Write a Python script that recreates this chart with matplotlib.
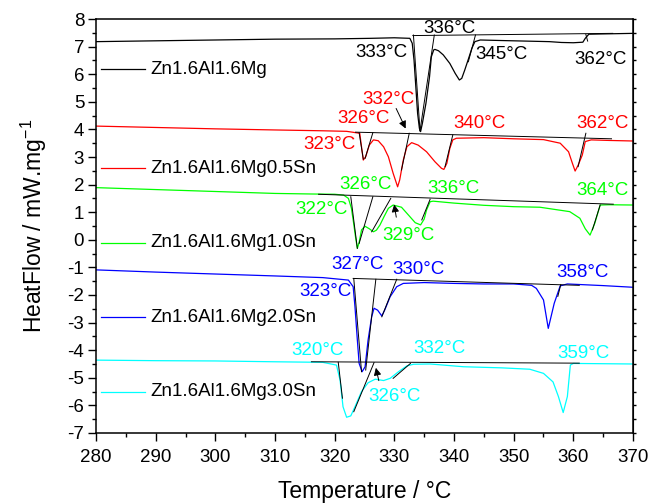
import numpy as np
import matplotlib
matplotlib.use('Agg')
import matplotlib.pyplot as plt
from matplotlib.ticker import MultipleLocator

plt.rcParams['font.family'] = ['Liberation Sans', 'DejaVu Sans']
plt.rcParams['axes.unicode_minus'] = False
plt.rcParams['mathtext.fontset'] = 'custom'
plt.rcParams['mathtext.rm'] = 'Liberation Sans'
plt.rcParams['mathtext.default'] = 'rm'

names = ['Zn1.6Al1.6Mg', 'Zn1.6Al1.6Mg0.5Sn', 'Zn1.6Al1.6Mg1.0Sn', 'Zn1.6Al1.6Mg2.0Sn', 'Zn1.6Al1.6Mg3.0Sn']
colors = ['black', '#FF0000', '#00FF00', '#0000FF', '#00FFFF']

# DSC traces (temperature in C, heat flow in mW/mg)
t_mg = [280, 290, 300, 310, 320, 326, 330, 332.6, 333.0, 333.3, 333.6, 333.9, 334.2, 334.4, 334.7, 335.3,
        335.9, 336.2, 336.6, 336.8, 337.4, 338.2, 339.3, 340.2, 340.9, 341.3, 341.8, 342.4, 343.0, 343.5,
        344.4, 348, 352, 356, 358, 360, 361.6, 362.0, 362.6, 365, 370]
hf_mg = [7.18, 7.21, 7.24, 7.27, 7.28, 7.30, 7.32, 7.30, 7.12, 6.51, 5.55, 4.58, 4.04, 3.92, 4.22, 4.95,
         5.91, 6.63, 6.88, 6.90, 6.85, 6.70, 6.39, 6.03, 5.79, 5.85, 6.15, 6.54, 6.94, 7.18,
         7.24, 7.22, 7.20, 7.18, 7.15, 7.14, 7.16, 7.30, 7.45, 7.46, 7.48]

t_sn05 = [280, 290, 300, 310, 318, 322, 324.2, 324.5, 324.8, 325.2, 325.8, 326.5, 327.3, 328.2, 329.0,
          329.8, 330.55, 330.9, 331.5, 332.1, 332.9, 334.0, 335.4, 336.8, 337.9, 338.3, 338.8, 339.3,
          339.8, 340.4, 345, 350, 355, 357.8, 359.2, 359.8, 360.3, 360.8, 361.5, 362.0, 363, 366, 370]
hf_sn05 = [4.12, 4.07, 4.02, 3.98, 3.95, 3.93, 3.86, 3.37, 2.89, 3.01, 3.43, 3.62, 3.59, 3.37, 3.01,
           2.41, 1.92, 2.17, 2.89, 3.37, 3.52, 3.43, 3.19, 2.83, 2.59, 2.55, 2.77, 3.31,
           3.62, 3.68, 3.70, 3.66, 3.63, 3.50, 3.19, 2.80, 2.49, 2.70, 3.07, 3.56, 3.62, 3.60, 3.58]

t_sn10 = [280, 290, 300, 310, 316, 320, 321.5, 322.3, 322.8, 323.1, 323.5, 323.8, 324.1, 324.5, 325.1,
          325.8, 326.5, 327.0, 327.6, 328.3, 329.0, 329.8, 331.2, 332.6, 333.5, 334.4, 335.0, 335.4,
          336.0, 336.5, 340, 345, 350, 354.4, 359.4, 361.1, 362.0, 362.8, 363.6, 364.5, 366, 370]
hf_sn10 = [1.89, 1.82, 1.75, 1.68, 1.66, 1.65, 1.62, 1.50, 1.15, 0.72, 0.10, -0.31, -0.10, 0.36, 0.49,
           0.40, 0.29, 0.35, 0.54, 0.85, 1.14, 1.26, 1.18, 0.84, 0.62, 0.54, 0.75, 1.08,
           1.38, 1.40, 1.33, 1.25, 1.20, 1.18, 1.02, 0.78, 0.40, 0.17, 0.60, 1.26, 1.27, 1.26]

t_sn20 = [280, 290, 300, 310, 318, 322.3, 323.1, 323.4, 323.8, 324.1, 324.6, 325.1, 325.6, 326.2, 326.6,
          327.2, 327.9, 328.4, 329.3, 330.4, 331.5, 335, 340, 345, 350, 353.0, 353.8, 355.0, 355.8,
          356.8, 357.8, 359, 365, 370]
hf_sn20 = [-1.09, -1.17, -1.24, -1.31, -1.37, -1.46, -1.70, -2.42, -3.63, -4.48, -4.78, -4.60, -3.63, -2.79, -2.48,
           -2.55, -2.76, -2.54, -2.06, -1.70, -1.58, -1.55, -1.58, -1.60, -1.60, -1.65, -1.76, -2.18, -3.21,
           -2.30, -1.67, -1.60, -1.66, -1.72]

t_sn30 = [280, 290, 300, 310, 318, 320.3, 320.9, 321.4, 322.0, 322.7, 323.4, 324.5, 325.6, 326.8, 328.2,
          329.3, 330.7, 332.1, 333.2, 336, 341.6, 348, 352.7, 355.0, 356.6, 357.5, 358.3, 359.0, 359.5,
          360, 365, 370]
hf_sn30 = [-4.36, -4.38, -4.39, -4.42, -4.44, -4.54, -5.08, -6.05, -6.43, -6.38, -6.05, -5.50, -5.18, -5.05, -5.10,
           -5.02, -4.78, -4.57, -4.51, -4.50, -4.60, -4.64, -4.69, -4.84, -5.15, -5.68, -6.26, -5.68, -4.54,
           -4.48, -4.49, -4.50]

# onset / tangent construction lines: [(T1, T2), (hf1, hf2)]
tangents_mg = [((333.1, 366.6), (7.40, 7.48)), ((333.2, 334.3), (7.42, 3.95)), ((336.7, 334.3), (7.42, 3.95)),
               ((343.6, 342.4), (7.42, 6.45)), ((362.1, 362.4), (7.44, 7.20))]
tangents_sn05 = [((323.5, 366.4), (3.90, 3.66)), ((324.1, 324.8), (3.88, 2.92)), ((326.4, 325.1), (3.88, 2.95)),
                 ((332.5, 331.2), (3.86, 2.53)), ((339.8, 338.5), (3.80, 2.65)), ((362.1, 360.8), (3.86, 2.65))]
tangents_sn10 = [((317.3, 366.7), (1.65, 1.29)), ((322.7, 323.8), (1.56, -0.31)), ((326.4, 324.1), (1.56, -0.13)),
                 ((329.4, 326.2), (1.50, 0.29)), ((336.0, 334.6), (1.47, 0.72)), ((364.5, 363.2), (1.26, 0.36))]
tangents_sn20 = [((323.1, 361.0), (-1.40, -1.65)), ((323.2, 324.5), (-1.40, -4.78)), ((326.9, 325.2), (-1.43, -4.72)),
                 ((330.4, 327.9), (-1.43, -2.79)), ((357.9, 357.4), (-1.62, -2.05))]
tangents_sn30 = [((316.1, 361.0), (-4.42, -4.47)), ((320.6, 321.3), (-4.44, -5.74)), ((326.6, 323.2), (-4.45, -6.23)),
                 ((332.7, 329.8), (-4.48, -5.02))]

# peak temperature labels: (text, T, hf)
labels_mg = [('333°C', 327.9, 6.79), ('336°C', 339.3, 7.66), ('345°C', 348.0, 6.70), ('362°C', 364.5, 6.54)]
labels_sn05 = [('332°C', 329.1, 5.07), ('326°C', 324.9, 4.40), ('323°C', 319.2, 3.47), ('340°C', 344.3, 4.20),
               ('362°C', 364.9, 4.20)]
labels_sn10 = [('326°C', 325.1, 1.99), ('322°C', 317.8, 1.08), ('336°C', 339.9, 1.87), ('329°C', 332.3, 0.14),
               ('364°C', 364.9, 1.78)]
labels_sn20 = [('327°C', 323.9, -0.89), ('330°C', 334.1, -1.09), ('323°C', 318.5, -1.86), ('358°C', 361.5, -1.18)]
labels_sn30 = [('320°C', 317.2, -4.02), ('332°C', 337.5, -3.93), ('326°C', 330.0, -5.68), ('359°C', 361.7, -4.11)]

# arrows pointing from a label to its onset: (tail T, tail hf, head T, head hf)
arrows = [(330.1, 4.85, 332.1, 3.94), (330.4, 0.72, 329.9, 1.38), (327.5, -5.2, 326.8, -4.54)]

curves = [(t_mg, hf_mg), (t_sn05, hf_sn05), (t_sn10, hf_sn10), (t_sn20, hf_sn20), (t_sn30, hf_sn30)]
tangents = [tangents_mg, tangents_sn05, tangents_sn10, tangents_sn20, tangents_sn30]
labels = [labels_mg, labels_sn05, labels_sn10, labels_sn20, labels_sn30]
legend_y = [0.879, 0.640, 0.459, 0.280, 0.099]

fig = plt.figure(figsize=(6.64, 5.03), dpi=100)
ax = fig.add_axes([0.1446, 0.1392, 0.8087, 0.823])

for (t, hf), col, tans, labs, name, ly in zip(curves, colors, tangents, labels, names, legend_y):
    ax.plot(t, hf, color=col, lw=0.9)
    for tx, ty in tans:
        ax.plot(tx, ty, color='black', lw=0.7)
    for txt, x, y in labs:
        ax.text(x, y, txt, color=col, fontsize=13.5, ha='center', va='center')
    # legend entries are placed one by one like in the original
    ax.plot([0.0093, 0.091], [ly, ly], color=col, lw=0.9, transform=ax.transAxes)
    ax.text(0.101, ly, name, color='black', fontsize=13.5, ha='left', va='center', transform=ax.transAxes)

for x0, y0, x1, y1 in arrows:
    ax.annotate('', xy=(x1, y1), xytext=(x0, y0),
                arrowprops=dict(arrowstyle='-|>', color='black', lw=0.7, mutation_scale=11))

ax.set_xlim(280, 370)
ax.set_ylim(-7, 8)
ax.xaxis.set_major_locator(MultipleLocator(10))
ax.xaxis.set_minor_locator(MultipleLocator(5))
ax.yaxis.set_major_locator(MultipleLocator(1))
ax.yaxis.set_minor_locator(MultipleLocator(0.5))
ax.tick_params(which='major', direction='out', length=5.5, width=1, labelsize=13.5)
ax.tick_params(which='minor', direction='out', length=3, width=1)
ax.tick_params(axis='x', pad=6)
ax.tick_params(axis='y', pad=3)
for s in ax.spines.values():
    s.set_linewidth(1.1)

# small ticks on the right spine, no labels
ax_r = ax.secondary_yaxis('right')
ax_r.yaxis.set_major_locator(MultipleLocator(0.5))
ax_r.tick_params(direction='out', length=2.5, width=1, labelright=False)

ax.set_xlabel('Temperature / °C', fontsize=16.5, labelpad=10)
ax.set_ylabel('HeatFlow / mW.mg$^{-1}$', fontsize=16.5, labelpad=13)

fig.savefig('out.png', dpi=100)
